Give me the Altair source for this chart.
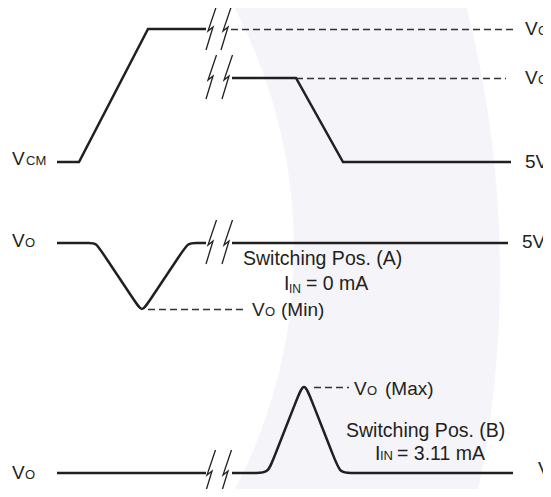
import altair as alt
import pandas as pd

# ---------------- data (time t, level v; level grows downward) ----------------
# V_CM trace
vcm_rise_t = [57, 79, 148, 206]
vcm_rise_v = [162, 162, 29, 29]
vcm_fall_t = [232, 296, 343, 511]
vcm_fall_v = [78, 78, 162, 162]
# V_O, switching position A
voa_dip_t = [57, 75, 90, 96, 102, 136, 142, 148, 182, 188, 196, 206]
voa_dip_v = [243, 243, 243, 243, 252, 303, 312, 303, 252, 243, 243, 243]
voa_flat_t = [232, 508]
voa_flat_v = [243, 243]
# V_O, switching position B
vob_flat_t = [57, 206]
vob_flat_v = [473, 473]
vob_peak_t = [232, 245, 256, 268, 273, 297, 304, 311, 335, 340, 351, 362, 513]
vob_peak_v = [473, 473, 473, 473, 460, 399, 381, 399, 460, 473, 473, 473, 473]

# dashed reference levels: (start t, end t, level)
dash_t0 = [231, 296, 148, 314]
dash_t1 = [513, 506, 247, 349]
dash_v = [29.5, 78.5, 309.5, 387.5]

# time-break symbols
brk_levels = [29, 78, 243, 473]
brk_first = [206, 206, 206, 205]
brk_second = [221, 222, 222, 221]
brk_dt = [0, 7, 2, 10.5]
brk_dv = [21, -2, 2, -23]

# labels: text, t, v(baseline), font size
lab_text = ["V", "CM", "V", "O", "V", "O",
            "V", "O", "V", "O", "5V", "5V", "V",
            "Switching Pos. (A)", "I", "IN", "= 0 mA",
            "V", "O", "(Min)",
            "V", "O", "(Max)",
            "Switching Pos. (B)", "I", "IN", "= 3.11 mA"]
lab_t = [12, 26, 12, 25, 12, 25,
         525, 538, 525, 538, 525, 522, 538,
         243, 284, 289, 306,
         252, 265, 281,
         354, 367, 385,
         346, 375, 380, 397]
lab_v = [165, 165, 247, 247, 479, 479,
         35, 35, 84, 84, 168, 248, 475,
         265, 290, 293, 290,
         316, 316, 316,
         395, 395, 395,
         437, 460, 460, 460]
lab_fs = [19, 13, 19, 13, 19, 13,
          19, 13, 19, 13, 19, 19, 19,
          19.5, 19.5, 12, 19.5,
          19, 13, 19,
          19, 13, 19,
          19.5, 19.5, 13, 19.5]

# ---------------- tables ----------------
def seg_rows(name, ts, vs):
    return [{"seg": name, "i": k, "t": t, "v": v} for k, (t, v) in enumerate(zip(ts, vs))]

lin_rows = (seg_rows("a", vcm_rise_t, vcm_rise_v) + seg_rows("b", vcm_fall_t, vcm_fall_v)
            + seg_rows("c", voa_flat_t, voa_flat_v) + seg_rows("d", vob_flat_t, vob_flat_v))
lin_df = pd.DataFrame(lin_rows)
crv_df = pd.DataFrame(seg_rows("e", voa_dip_t, voa_dip_v) + seg_rows("f", vob_peak_t, vob_peak_v))

dash_rows = []
for k, (a, b, v) in enumerate(zip(dash_t0, dash_t1, dash_v)):
    dash_rows += [{"seg": k, "i": 0, "t": a, "v": v}, {"seg": k, "i": 1, "t": b, "v": v}]
dash_df = pd.DataFrame(dash_rows)

brk_rows = []
for li, L in enumerate(brk_levels):
    for bi, b in enumerate([brk_first[li], brk_second[li]]):
        for k, (dt, dv) in enumerate(zip(brk_dt, brk_dv)):
            brk_rows.append({"seg": f"{li}-{bi}", "i": k, "t": b + dt, "v": L + dv})
brk_df = pd.DataFrame(brk_rows)

lab_df = pd.DataFrame({"s": lab_text, "t": lab_t, "v": lab_v, "fs": lab_fs})

# ---------------- chart ----------------
xs = alt.Scale(domain=[8, 543])
ys = alt.Scale(domain=[8, 489], reverse=True)
X = alt.X("t:Q", scale=xs, axis=None)
Y = alt.Y("v:Q", scale=ys, axis=None)
INK = "#231f20"

# faint background watermark: a crescent made of a lavender disc minus a white disc
# (Vega symbol size is the area of the bounding square, i.e. diameter squared)
R_OUT, R_IN = 1081, 518
wm_out = alt.Chart(pd.DataFrame({"t": [-581], "v": [274]})).mark_circle(
    size=(2 * R_OUT) ** 2, color="#f5f4f9", opacity=1).encode(x=X, y=Y)
wm_in = alt.Chart(pd.DataFrame({"t": [-224], "v": [249]})).mark_circle(
    size=(2 * R_IN) ** 2, color="#ffffff", opacity=1).encode(x=X, y=Y)

dashed = alt.Chart(dash_df).mark_line(color="#333333", strokeWidth=1.3, strokeDash=[7, 4]).encode(
    x=X, y=Y, detail="seg:N", order="i:Q")

solid = alt.Chart(lin_df).mark_line(color=INK, strokeWidth=2.5, strokeJoin="miter").encode(
    x=X, y=Y, detail="seg:N", order="i:Q")

curves = alt.Chart(crv_df).mark_line(color=INK, strokeWidth=2.5, interpolate="basis").encode(
    x=X, y=Y, detail="seg:N", order="i:Q")

breaks = alt.Chart(brk_df).mark_line(color=INK, strokeWidth=1.3).encode(
    x=X, y=Y, detail="seg:N", order="i:Q")

labels = alt.Chart(lab_df).mark_text(align="left", baseline="alphabetic", font="Liberation Sans",
                                     color=INK).encode(
    x=X, y=Y, text="s:N", size=alt.Size("fs:Q", scale=None))

chart = alt.layer(wm_out, wm_in, dashed, solid, curves, breaks, labels).properties(
    width=535, height=481, padding=0, autosize=alt.AutoSizeParams(type="none"),
    background="white",
).configure_view(stroke=None)

chart.save("out.html", embed_options={"renderer": "svg", "actions": False})
